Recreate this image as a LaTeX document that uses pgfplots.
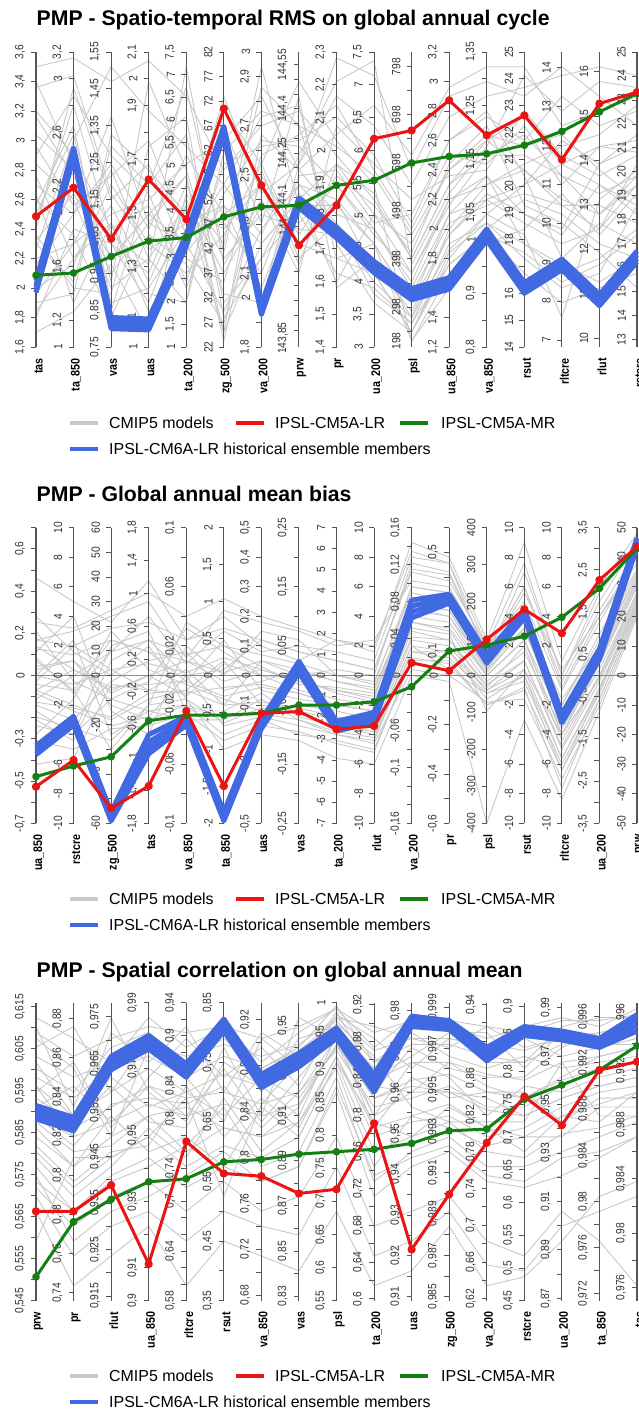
\documentclass[border=0pt]{standalone}
\usepackage{fontspec}
\setmainfont{Liberation Sans}
\newfontfamily\narrowfont[FakeStretch=0.86]{Liberation Sans}
\usepackage{pgfplots}
\pgfplotsset{compat=1.18}
\usepackage{pgfplotstable}

\definecolor{cgray}{RGB}{200,200,200}
\definecolor{axcol}{RGB}{85,85,85}
\definecolor{cred}{RGB}{235,20,20}
\definecolor{cgreen}{RGB}{20,128,20}
\definecolor{cblue}{RGB}{65,105,225}

\pgfkeys{/pgf/number format/.cd, fixed, precision=3, use comma, assume math mode=true, 1000 sep={}}

% idx, min, max, marks, labels, name
\newcommand\vax[6]{%
  \draw[axcol, line width=1.1bp] (axis cs:#1,0) -- (axis cs:#1,1);
  \foreach \t in {#4} {\pgfmathsetmacro\p{(\t-(#2))/((#3)-(#2))}\draw[axcol, line width=0.9bp] (axis cs:#1,\p) -- ++(-5bp,0bp);}
  \foreach \t in {#5} {\pgfmathsetmacro\p{(\t-(#2))/((#3)-(#2))}\node[rotate=90, anchor=south, inner sep=0pt, text=black!80, font=\narrowfont\fontsize{12}{12}\selectfont] at ([xshift=-11bp]axis cs:#1,\p) {\pgfmathprintnumber{\t}};}
  \node[rotate=90, anchor=east, inner sep=0pt, font=\narrowfont\bfseries\fontsize{12.5}{13}\selectfont] at ([xshift=2.5bp,yshift=-11bp]axis cs:#1,0) {#6};
}
\newcommand\blab[3]{\node[rotate=90, anchor=south, inner sep=0pt, text=black!80, font=\narrowfont\fontsize{12}{12}\selectfont] at ([xshift=-11bp]axis cs:#1,#2) {#3};}

\newcommand\leg[2]{%
  \draw[cgray, line width=4bp] (70bp,-#1bp) -- (98bp,-#1bp);
  \node[anchor=west, inner sep=0pt, font=\fontsize{16}{16}\selectfont] at (109bp,-#1bp) {CMIP5 models};
  \draw[cred, line width=4bp] (236bp,-#1bp) -- (264bp,-#1bp);
  \node[anchor=west, inner sep=0pt, font=\fontsize{16}{16}\selectfont] at (275bp,-#1bp) {IPSL-CM5A-LR};
  \draw[cgreen, line width=4bp] (400bp,-#1bp) -- (428bp,-#1bp);
  \node[anchor=west, inner sep=0pt, font=\fontsize{16}{16}\selectfont] at (441bp,-#1bp) {IPSL-CM5A-MR};
  \draw[cblue, line width=4bp] (70bp,-#2bp) -- (98bp,-#2bp);
  \node[anchor=west, inner sep=0pt, font=\fontsize{16}{16}\selectfont] at (109bp,-#2bp) {IPSL-CM6A-LR historical ensemble members};
}

% ---------------- Panel 1: RMS (normalised position on each axis)
\pgfplotstableread{
x r g b1 b2 b3 b4
0 0.443 0.243 0.225 0.210 0.200 0.185
1 0.540 0.251 0.675 0.665 0.655 0.640
2 0.367 0.307 0.100 0.088 0.075 0.062
3 0.568 0.359 0.095 0.082 0.070 0.058
4 0.433 0.371 0.380 0.368 0.355 0.342
5 0.808 0.441 0.748 0.738 0.728 0.715
6 0.548 0.475 0.145 0.133 0.122 0.110
7 0.345 0.480 0.505 0.495 0.485 0.472
8 0.480 0.548 0.405 0.395 0.382 0.370
9 0.706 0.565 0.290 0.278 0.265 0.252
10 0.734 0.624 0.198 0.186 0.174 0.160
11 0.836 0.646 0.235 0.222 0.210 0.196
12 0.718 0.655 0.400 0.388 0.376 0.362
13 0.785 0.684 0.218 0.206 0.195 0.182
14 0.635 0.731 0.298 0.286 0.274 0.262
15 0.825 0.797 0.178 0.166 0.154 0.140
16 0.864 0.859 0.325 0.313 0.300 0.288
}\mainA
\pgfplotstableread{
x m1 m2 m3 m4 m5 m6 m7 m8 m9 m10 m11 m12 m13 m14 m15 m16 m17 m18 m19 m20 m21 m22 m23 m24 m25 m26 m27 m28 m29 m30
0 .95 .72 .55 .40 .30 .62 .20 .10 .48 .35 .80 .25 .15 .58 .42 .68 .05 .33 .50 .88 .12 .65 .38 .78 .28 .45 .18 .90 .52 .36
1 .98 .60 .45 .88 .35 .50 .28 .40 .75 .22 .65 .55 .18 .30 .82 .48 .12 .70 .38 .92 .30 .85 .20 .58 .45 .72 .35 .62 .15 .52
2 .90 .30 .62 .50 .45 .20 .55 .35 .15 .68 .40 .25 .72 .42 .38 .58 .28 .95 .10 .52 .48 .65 .18 .35 .78 .22 .60 .12 .42 .30
3 .97 .45 .40 .62 .50 .30 .35 .25 .20 .55 .48 .42 .60 .18 .28 .70 .05 .80 .38 .33 .22 .52 .68 .15 .42 .90 .30 .55 .12 .45
4 .85 .35 .65 .30 .62 .48 .25 .55 .40 .72 .20 .58 .45 .15 .95 .38 .52 .68 .28 .42 .50 .22 .78 .48 .35 .60 .15 .88 .32 .58
5 .60 .12 .45 .22 .70 .05 .38 .30 .85 .15 .52 .02 .42 .66 .28 .75 .35 .55 .08 .48 .25 .62 .10 .40 .55 .18 .80 .32 .48 .05
6 .75 .40 .55 .65 .85 .35 .62 .45 .52 .30 .70 .60 .25 .80 .50 .42 .95 .38 .58 .20 .48 .68 .30 .55 .78 .15 .62 .88 .35 .72
7 .80 .55 .35 .72 .60 .50 .90 .40 .62 .45 .68 .30 .58 .75 .25 .85 .48 .65 .38 .52 .42 .70 .55 .28 .82 .62 .35 .75 .50 .60
8 .65 .50 .30 .82 .45 .62 .70 .38 .98 .25 .55 .42 .60 .35 .75 .20 .48 .90 .58 .40 .55 .78 .42 .62 .30 .85 .50 .68 .22 .72
9 .50 .35 .25 .60 .40 .45 .55 .30 .92 .20 .38 .28 .42 .15 .62 .30 .35 .97 .48 .22 .40 .65 .18 .52 .35 .75 .25 .58 .45 .82
10 .30 .15 .05 .40 .22 .35 .02 .10 .60 .08 .25 .12 .45 .05 .50 .18 .02 .28 .32 .10 .20 .42 .08 .30 .15 .55 .05 .38 .25 .65
11 .55 .45 .30 .65 .50 .60 .25 .40 .85 .35 .48 .38 .70 .28 .58 .42 .20 .52 .62 .33 .45 .70 .28 .55 .38 .78 .32 .60 .50 .88
12 .70 .50 .45 .62 .58 .72 .40 .55 .90 .42 .65 .52 .80 .38 .60 .48 .35 .68 .75 .45 .58 .78 .38 .65 .50 .85 .42 .70 .55 .95
13 .60 .42 .55 .75 .35 .68 .50 .62 .85 .30 .72 .45 .58 .25 .80 .52 .40 .92 .48 .38 .45 .70 .32 .65 .55 .88 .35 .78 .60 .95
14 .50 .35 .62 .55 .25 .72 .45 .68 .95 .20 .58 .40 .30 .15 .65 .48 .52 .80 .42 .10 .38 .85 .22 .58 .70 .92 .28 .62 .48 .75
15 .45 .40 .55 .68 .30 .60 .35 .72 .85 .25 .52 .62 .42 .20 .58 .48 .38 .90 .32 .50 .55 .75 .28 .45 .62 .95 .22 .68 .40 .80
16 .55 .62 .45 .70 .40 .50 .30 .82 .75 .48 .58 .68 .35 .25 .65 .42 .52 .88 .20 .60 .48 .80 .38 .58 .72 .92 .30 .66 .55 .85
}\grayA

% ---------------- Panel 2: bias
\pgfplotstableread{
x r g b1 b2 b3 b4
0 0.124 0.158 0.262 0.252 0.242 0.232
1 0.214 0.194 0.362 0.352 0.342 0.332
2 0.051 0.225 0.038 0.028 0.018 0.008
3 0.126 0.347 0.300 0.275 0.255 0.235
4 0.380 0.366 0.362 0.352 0.342 0.332
5 0.126 0.366 0.038 0.028 0.018 0.008
6 0.372 0.372 0.350 0.340 0.330 0.320
7 0.378 0.400 0.548 0.535 0.522 0.510
8 0.318 0.400 0.345 0.335 0.322 0.312
9 0.329 0.411 0.375 0.364 0.352 0.342
10 0.543 0.462 0.755 0.735 0.715 0.695
11 0.516 0.583 0.775 0.765 0.755 0.745
12 0.622 0.603 0.572 0.562 0.552 0.542
13 0.724 0.633 0.725 0.715 0.705 0.695
14 0.643 0.697 0.370 0.360 0.350 0.340
15 0.823 0.795 0.590 0.578 0.566 0.554
16 0.936 0.930 0.965 0.955 0.945 0.935
}\mainB
\pgfplotstableread{
x m1 m2 m3 m4 m5 m6 m7 m8 m9 m10 m11 m12 m13 m14 m15 m16 m17 m18 m19 m20 m21 m22 m23 m24 m25 m26 m27 m28 m29 m30
0 .83 .60 .55 .48 .45 .40 .52 .35 .65 .50 .42 .30 .58 .70 .47 .38 .20 .62 .44 .53 .50 .36 .62 .45 .28 .56 .41 .68 .33 .59
1 .75 .52 .45 .60 .40 .35 .55 .28 .48 .62 .50 .42 .70 .58 .45 .30 .22 .65 .38 .55 .47 .32 .60 .52 .25 .44 .39 .66 .30 .57
2 .68 .45 .62 .52 .35 .48 .40 .55 .42 .30 .58 .65 .38 .50 .25 .60 .47 .70 .33 .44 .52 .28 .66 .46 .32 .58 .36 .72 .42 .62
3 .82 .50 .58 .45 .42 .55 .35 .62 .48 .38 .70 .52 .30 .60 .40 .65 .45 .75 .36 .50 .54 .40 .68 .47 .33 .62 .44 .78 .38 .58
4 .62 .55 .48 .52 .45 .58 .40 .50 .66 .35 .54 .47 .60 .42 .68 .38 .44 .56 .50 .43 .51 .42 .62 .48 .37 .57 .45 .70 .40 .55
5 .70 .48 .62 .40 .55 .45 .30 .52 .58 .35 .65 .42 .50 .25 .60 .38 .46 .72 .33 .54 .56 .34 .66 .43 .28 .60 .40 .76 .36 .51
6 .60 .52 .45 .55 .40 .48 .35 .62 .50 .42 .58 .38 .65 .30 .53 .44 .47 .68 .36 .50 .52 .39 .62 .46 .33 .57 .41 .70 .37 .55
7 .55 .48 .42 .50 .38 .52 .30 .58 .45 .35 .60 .40 .62 .28 .47 .36 .44 .65 .33 .49 .48 .37 .58 .44 .31 .54 .39 .66 .35 .52
8 .62 .45 .40 .52 .35 .48 .28 .55 .42 .30 .58 .38 .50 .22 .46 .33 .40 .60 .30 .44 .45 .33 .55 .40 .27 .50 .36 .62 .31 .48
9 .58 .42 .38 .50 .32 .45 .25 .52 .40 .28 .55 .35 .48 .20 .44 .30 .38 .62 .27 .41 .43 .31 .52 .38 .24 .47 .34 .60 .29 .46
10 .95 .80 .72 .88 .62 .75 .55 .85 .68 .58 .90 .65 .78 .50 .70 .60 .66 .82 .52 .73 .76 .60 .86 .68 .56 .80 .63 .92 .58 .74
11 .90 .78 .70 .85 .60 .72 .55 .82 .65 .58 .88 .62 .75 .48 .68 .52 .64 .80 .50 .70 .74 .58 .84 .66 .54 .78 .62 .88 .56 .72
12 .62 .55 .50 .58 .45 .52 .40 .60 .48 .42 .56 .46 .54 .00 .50 .44 .38 .57 .41 .53 .52 .45 .58 .50 .40 .54 .47 .60 .44 .51
13 .95 .70 .62 .80 .55 .65 .45 .75 .58 .50 .85 .60 .68 .35 .62 .48 .52 .78 .42 .66 .70 .52 .80 .62 .46 .72 .55 .88 .50 .66
14 .55 .40 .30 .48 .25 .38 .18 .45 .32 .22 .50 .28 .42 .08 .35 .20 .30 .52 .15 .36 .38 .22 .46 .30 .12 .40 .26 .50 .18 .34
15 .80 .62 .55 .72 .48 .58 .42 .68 .52 .45 .75 .50 .60 .38 .56 .44 .49 .70 .40 .57 .60 .46 .70 .54 .42 .64 .50 .78 .45 .58
16 .98 .85 .80 .92 .75 .82 .72 .90 .78 .74 .95 .77 .84 .70 .80 .73 .76 .88 .71 .81 .83 .74 .90 .80 .72 .86 .78 .94 .75 .82
}\grayB

% ---------------- Panel 3: correlation
\pgfplotstableread{
x r g b1 b2 b3 b4
0 0.300 0.080 0.655 0.640 0.625 0.610
1 0.300 0.265 0.615 0.600 0.585 0.570
2 0.388 0.340 0.820 0.805 0.790 0.775
3 0.123 0.399 0.890 0.875 0.860 0.845
4 0.534 0.409 0.795 0.780 0.765 0.750
5 0.427 0.466 0.945 0.932 0.920 0.905
6 0.418 0.474 0.760 0.745 0.730 0.715
7 0.360 0.492 0.830 0.815 0.800 0.785
8 0.374 0.500 0.915 0.905 0.893 0.880
9 0.595 0.508 0.760 0.740 0.720 0.700
10 0.172 0.528 0.955 0.945 0.932 0.920
11 0.357 0.570 0.940 0.930 0.920 0.910
12 0.530 0.576 0.850 0.835 0.820 0.805
13 0.685 0.676 0.920 0.910 0.900 0.890
14 0.589 0.724 0.905 0.895 0.885 0.875
15 0.774 0.774 0.880 0.870 0.860 0.850
16 0.802 0.855 0.960 0.945 0.925 0.905
}\mainC
\pgfplotstableread{
x m1 m2 m3 m4 m5 m6 m7 m8 m9 m10 m11 m12 m13 m14 m15 m16 m17 m18 m19 m20 m21 m22 m23 m24 m25 m26 m27 m28 m29 m30
0 .95 .80 .65 .55 .72 .48 .85 .60 .38 .70 .92 .52 .45 .78 .30 .62 .88 .42 .68 .20 .75 .58 .90 .35 .66 .82 .50 .72 .40 .62
1 .88 .62 .72 .45 .55 .35 .92 .50 .25 .80 .65 .40 .30 .70 .05 .52 .78 .20 .60 .48 .68 .45 .82 .15 .58 .75 .38 .62 .30 .55
2 .80 .75 .60 .62 .90 .45 .70 .52 .35 .58 .95 .50 .40 .85 .15 .66 .55 .30 .72 .48 .78 .55 .88 .25 .65 .80 .48 .70 .42 .60
3 .95 .65 .72 .50 .80 .58 .88 .62 .40 .75 .70 .52 .45 .90 .25 .68 .85 .35 .60 .55 .82 .62 .92 .30 .72 .86 .55 .78 .48 .66
4 .85 .70 .62 .55 .92 .48 .78 .65 .30 .88 .60 .72 .52 .80 .05 .66 .75 .42 .58 .68 .75 .50 .90 .20 .68 .82 .45 .70 .38 .62
5 .92 .62 .78 .45 .70 .68 .95 .58 .40 .75 .85 .55 .65 .88 .20 .72 .60 .50 .80 .35 .82 .58 .92 .30 .70 .86 .52 .76 .45 .66
6 .80 .75 .60 .65 .90 .50 .70 .55 .30 .85 .62 .68 .45 .78 .15 .58 .88 .40 .72 .66 .78 .55 .88 .25 .66 .82 .48 .72 .40 .62
7 .90 .68 .75 .55 .82 .60 .88 .65 .35 .72 .95 .58 .50 .85 .10 .70 .78 .45 .62 .80 .84 .60 .92 .22 .70 .86 .55 .78 .45 .66
8 .98 .85 .90 .80 .95 .78 .92 .86 .55 .96 .88 .82 .75 .99 .30 .84 .97 .70 .89 .93 .94 .82 .98 .45 .88 .95 .80 .90 .72 .86
9 .85 .72 .62 .60 .92 .45 .78 .68 .25 .88 .70 .55 .40 .80 .05 .65 .75 .35 .58 .82 .80 .58 .90 .15 .68 .84 .50 .74 .42 .62
10 .95 .70 .80 .55 .88 .62 .92 .72 .30 .78 .85 .60 .50 .90 .10 .68 .82 .45 .75 .65 .86 .62 .94 .20 .74 .88 .55 .80 .48 .70
11 .92 .80 .75 .65 .85 .58 .95 .70 .35 .88 .78 .62 .55 .82 .25 .72 .90 .50 .68 .60 .86 .66 .94 .30 .76 .88 .60 .80 .52 .70
12 .88 .72 .62 .58 .92 .52 .80 .68 .20 .85 .75 .55 .45 .78 .05 .65 .90 .40 .70 .60 .82 .58 .92 .12 .70 .86 .50 .76 .42 .64
13 .92 .68 .72 .50 .85 .55 .80 .62 .15 .88 .75 .58 .45 .82 .08 .65 .78 .38 .70 .60 .80 .55 .90 .10 .68 .84 .48 .74 .40 .62
14 .95 .75 .70 .62 .88 .55 .92 .68 .30 .82 .85 .65 .50 .78 .20 .72 .90 .42 .60 .80 .86 .62 .94 .25 .74 .88 .56 .80 .48 .68
15 .92 .82 .75 .60 .88 .65 .95 .72 .20 .85 .90 .70 .55 .80 .35 .78 .86 .48 .68 .62 .88 .66 .94 .30 .78 .90 .58 .82 .50 .72
16 .98 .85 .78 .70 .90 .65 .95 .75 .05 .88 .92 .72 .60 .82 .40 .80 .86 .55 .68 .62 .90 .70 .96 .35 .80 .92 .62 .85 .55 .75
}\grayC

\pgfplotsset{
  pcp/.style={anchor=south west, width=601bp, scale only axis, xmin=0, xmax=16, ymin=0, ymax=1, hide axis, clip=false},
  gl/.style={cgray, line width=0.9bp, forget plot},
  bl/.style={cblue, line width=5bp, line join=round, forget plot},
  gr/.style={cgreen, line width=3bp, line join=round, mark=*, mark size=2.3bp, forget plot},
  rd/.style={cred, line width=3bp, line join=round, mark=*, mark size=2.6bp, forget plot},
}

\begin{document}
\begin{tikzpicture}
\useasboundingbox (0bp,0bp) rectangle (639bp,-1411bp);

% ===================== Panel 1
\node[anchor=base west, inner sep=0pt, font=\bfseries\fontsize{21.3}{22}\selectfont] at (36.5bp,-25bp) {PMP - Spatio-temporal RMS on global annual cycle};
\begin{axis}[pcp, at={(36bp,-347bp)}, height=295bp]
\pgfplotsinvokeforeach{1,...,30}{\addplot[gl] table[x=x,y=m#1]{\grayA};}
\pgfplotsextra{
\vax{0}{1.6}{3.6}{1.6,1.8,2,2.2,2.4,2.6,2.8,3,3.2,3.4,3.6}{1.6,1.8,2,2.2,2.4,2.6,2.8,3,3.2,3.4,3.6}{tas}
\vax{1}{1}{3.2}{1,1.2,1.4,1.6,1.8,2,2.2,2.4,2.6,2.8,3,3.2}{1,1.2,1.6,2,2.2,2.6,3,3.2}{ta\_850}
\vax{2}{0.75}{1.55}{0.75,0.85,0.95,1.05,1.15,1.25,1.35,1.45,1.55}{0.75,0.85,0.95,1.05,1.15,1.25,1.35,1.45,1.55}{vas}
\vax{3}{1}{2.1}{1,1.1,1.2,1.3,1.4,1.5,1.6,1.7,1.8,1.9,2,2.1}{1,1.1,1.3,1.5,1.7,1.9,2,2.1}{uas}
\vax{4}{1}{7.5}{1,1.5,2,2.5,3,3.5,4,4.5,5,5.5,6,6.5,7,7.5}{1,1.5,2,2.5,3,3.5,4,4.5,5,5.5,6,6.5,7,7.5}{ta\_200}
\vax{5}{22}{82}{22,27,32,37,42,47,52,57,62,67,72,77,82}{22,27,32,37,42,47,52,57,62,67,72,77,82}{zg\_500}
\vax{6}{1.8}{3}{1.8,1.9,2,2.1,2.2,2.3,2.4,2.5,2.6,2.7,2.8,2.9,3}{1.8,2,2.1,2.3,2.5,2.7,2.9,3}{va\_200}
\vax{7}{143.593}{144.593}{143.65,143.7,143.75,143.8,143.85,143.9,143.95,144,144.05,144.1,144.15,144.2,144.25,144.3,144.35,144.4,144.45,144.5,144.55}{144,144.1,144.25,144.4,144.55}{prw}
\blab{7}{0.03}{143,85}
\vax{8}{1.4}{2.3}{1.4,1.5,1.6,1.7,1.8,1.9,2,2.1,2.2,2.3}{1.4,1.5,1.6,1.7,1.8,1.9,2,2.1,2.2,2.3}{pr}
\vax{9}{3}{7.5}{3,3.5,4,4.5,5,5.5,6,6.5,7,7.5}{3,3.5,4,4.5,5,5.5,6,6.5,7,7.5}{ua\_200}
\vax{10}{215}{828}{248,298,348,398,448,498,548,598,648,698,748,798}{298,398,498,598,698,798}{psl}
\blab{10}{0.02}{198}
\vax{11}{1.2}{3.2}{1.2,1.4,1.6,1.8,2,2.2,2.4,2.6,2.8,3,3.2}{1.2,1.4,1.6,1.8,2,2.2,2.4,2.6,2.8,3,3.2}{ua\_850}
\vax{12}{0.8}{1.35}{0.8,0.85,0.9,0.95,1,1.05,1.1,1.15,1.2,1.25,1.3,1.35}{0.8,0.9,1,1.05,1.15,1.25,1.35}{va\_850}
\vax{13}{14}{25}{14,15,16,17,18,19,20,21,22,23,24,25}{14,15,16,17,18,19,20,21,22,23,24,25}{rsut}
\vax{14}{6.82}{14.4}{7,8,9,10,11,12,13,14}{7,8,9,10,11,12,13,14}{rltcre}
\vax{15}{9.8}{16.44}{10,11,12,13,14,15,16}{10,11,12,13,14,15,16}{rlut}
\vax{16}{12.7}{25}{13,14,15,16,17,18,19,20,21,22,23,24,25}{13,14,15,16,17,18,19,20,21,22,23,24,25}{rstcre}
}
\pgfplotsinvokeforeach{1,...,4}{\addplot[bl] table[x=x,y=b#1]{\mainA};}
\addplot[gr] table[x=x,y=g]{\mainA};
\addplot[rd] table[x=x,y=r]{\mainA};
\end{axis}
\leg{423}{449}

% ===================== Panel 2
\node[anchor=base west, inner sep=0pt, font=\bfseries\fontsize{21.3}{22}\selectfont] at (36.5bp,-501bp) {PMP - Global annual mean bias};
\begin{axis}[pcp, at={(36bp,-823.3bp)}, height=295.6bp]
\pgfplotsinvokeforeach{1,...,30}{\addplot[gl] table[x=x,y=m#1]{\grayB};}
\draw[black!45, line width=1bp] (axis cs:0,0.5) -- (axis cs:16.1,0.5);
\pgfplotsextra{
\vax{0}{-0.7}{0.7}{-0.7,-0.6,-0.5,-0.4,-0.3,-0.2,-0.1,0,0.1,0.2,0.3,0.4,0.5,0.6,0.7}{-0.7,-0.5,-0.3,0,0.2,0.4,0.6}{ua\_850}
\vax{1}{-10}{10}{-10,-8,-6,-4,-2,0,2,4,6,8,10}{-10,-8,-6,-4,-2,0,2,4,6,8,10}{rstcre}
\vax{2}{-60}{60}{-60,-50,-40,-30,-20,-10,0,10,20,30,40,50,60}{-60,-40,-20,0,10,20,30,40,50,60}{zg\_500}
\vax{3}{-1.8}{1.8}{-1.8,-1.4,-1,-0.6,-0.2,0.2,0.6,1,1.4,1.8}{-1.8,-1.4,-1,-0.6,-0.2,0.2,0.6,1,1.4,1.8}{tas}
\vax{4}{-0.1}{0.1}{-0.1,-0.08,-0.06,-0.04,-0.02,0,0.02,0.04,0.06,0.08,0.1}{-0.1,-0.06,-0.02,0,0.02,0.06,0.1}{va\_850}
\vax{5}{-2}{2}{-2,-1.5,-1,-0.5,0,0.5,1,1.5,2}{-2,-1.5,-1,-0.5,0,0.5,1,1.5,2}{ta\_850}
\vax{6}{-0.5}{0.5}{-0.5,-0.4,-0.3,-0.2,-0.1,0,0.1,0.2,0.3,0.4,0.5}{-0.5,-0.3,-0.1,0,0.1,0.2,0.3,0.4,0.5}{uas}
\vax{7}{-0.25}{0.25}{-0.25,-0.2,-0.15,-0.1,-0.05,0,0.05,0.1,0.15,0.2,0.25}{-0.25,-0.15,-0.05,0,0.05,0.15,0.25}{vas}
\vax{8}{-7}{7}{-7,-6,-5,-4,-3,-2,-1,0,1,2,3,4,5,6,7}{-7,-6,-5,-4,-3,-2,-1,0,1,2,3,4,5,6,7}{ta\_200}
\vax{9}{-10}{10}{-10,-8,-6,-4,-2,0,2,4,6,8,10}{-10,-8,-6,-4,-2,0,2,4,6,8,10}{rlut}
\vax{10}{-0.16}{0.16}{-0.16,-0.14,-0.12,-0.1,-0.08,-0.06,-0.04,-0.02,0,0.02,0.04,0.06,0.08,0.1,0.12,0.14,0.16}{-0.16,-0.1,-0.06,0,0.04,0.08,0.12,0.16}{va\_200}
\vax{11}{-0.6}{0.6}{-0.6,-0.5,-0.4,-0.3,-0.2,-0.1,0,0.1,0.2,0.3,0.4,0.5,0.6}{-0.6,-0.4,-0.2,0,0.1,0.3,0.5}{pr}
\vax{12}{-400}{400}{-400,-300,-200,-100,0,100,200,300,400}{-400,-300,-200,-100,0,100,200,300,400}{psl}
\vax{13}{-10}{10}{-10,-8,-6,-4,-2,0,2,4,6,8,10}{-10,-8,-6,-4,-2,0,2,4,6,8,10}{rsut}
\vax{14}{-10}{10}{-10,-8,-6,-4,-2,0,2,4,6,8,10}{-10,-8,-6,-4,-2,0,2,4,6,8,10}{rltcre}
\vax{15}{-3.5}{3.5}{-3.5,-3,-2.5,-2,-1.5,-1,-0.5,0,0.5,1,1.5,2,2.5,3,3.5}{-3.5,-2.5,-1.5,-0.5,0.5,1.5,2.5,3.5}{ua\_200}
\vax{16}{-50}{50}{-50,-40,-30,-20,-10,0,10,20,30,40,50}{-50,-40,-30,-20,-10,0,10,20,30,40,50}{prw}
}
\pgfplotsinvokeforeach{1,...,4}{\addplot[bl] table[x=x,y=b#1]{\mainB};}
\addplot[gr] table[x=x,y=g]{\mainB};
\addplot[rd] table[x=x,y=r]{\mainB};
\end{axis}
\leg{899}{925}

% ===================== Panel 3
\node[anchor=base west, inner sep=0pt, font=\bfseries\fontsize{21.3}{22}\selectfont] at (36.5bp,-977bp) {PMP - Spatial correlation on global annual mean};
\begin{axis}[pcp, at={(36bp,-1300.7bp)}, height=298bp]
\pgfplotsinvokeforeach{1,...,30}{\addplot[gl] table[x=x,y=m#1]{\grayC};}
\pgfplotsextra{
\vax{0}{0.545}{0.616}{0.545,0.55,0.555,0.56,0.565,0.57,0.575,0.58,0.585,0.59,0.595,0.6,0.605,0.61,0.615}{0.545,0.555,0.565,0.575,0.585,0.595,0.605,0.615}{prw}
\vax{1}{0.736}{0.888}{0.74,0.76,0.78,0.8,0.82,0.84,0.86,0.88}{0.74,0.76,0.78,0.8,0.82,0.84,0.86,0.88}{pr}
\vax{2}{0.914}{0.978}{0.915,0.92,0.925,0.93,0.935,0.94,0.945,0.95,0.955,0.96,0.965,0.97,0.975}{0.915,0.925,0.935,0.945,0.955,0.965,0.975}{rlut}
\vax{3}{0.9}{0.99}{0.9,0.91,0.92,0.93,0.94,0.95,0.96,0.97,0.98,0.99}{0.9,0.91,0.93,0.95,0.97,0.99}{ua\_850}
\vax{4}{0.58}{0.94}{0.58,0.6,0.62,0.64,0.66,0.68,0.7,0.72,0.74,0.76,0.78,0.8,0.82,0.84,0.86,0.88,0.9,0.92,0.94}{0.58,0.64,0.7,0.74,0.8,0.84,0.9,0.94}{rltcre}
\vax{5}{0.35}{0.85}{0.35,0.4,0.45,0.5,0.55,0.6,0.65,0.7,0.75,0.8,0.85}{0.35,0.45,0.55,0.65,0.75,0.85}{rsut}
\vax{6}{0.675}{0.935}{0.68,0.7,0.72,0.74,0.76,0.78,0.8,0.82,0.84,0.86,0.88,0.9,0.92}{0.68,0.72,0.76,0.8,0.84,0.88,0.92}{va\_850}
\vax{7}{0.828}{0.96}{0.83,0.84,0.85,0.86,0.87,0.88,0.89,0.9,0.91,0.92,0.93,0.94,0.95}{0.83,0.85,0.87,0.89,0.91,0.93,0.95}{vas}
\vax{8}{0.55}{1}{0.55,0.6,0.65,0.7,0.75,0.8,0.85,0.9,0.95,1}{0.55,0.6,0.65,0.7,0.75,0.8,0.85,0.9,0.95,1}{psl}
\vax{9}{0.598}{0.922}{0.6,0.62,0.64,0.66,0.68,0.7,0.72,0.74,0.76,0.78,0.8,0.82,0.84,0.86,0.88,0.9,0.92}{0.6,0.64,0.68,0.72,0.76,0.8,0.84,0.88,0.92}{ta\_200}
\vax{10}{0.909}{0.982}{0.91,0.915,0.92,0.925,0.93,0.935,0.94,0.945,0.95,0.955,0.96,0.965,0.97,0.975,0.98}{0.91,0.92,0.93,0.94,0.95,0.96,0.97,0.98}{uas}
\vax{11}{0.9848}{0.9992}{0.985,0.986,0.987,0.988,0.989,0.99,0.991,0.992,0.993,0.994,0.995,0.996,0.997,0.998,0.999}{0.985,0.987,0.989,0.991,0.993,0.995,0.997,0.999}{zg\_500}
\vax{12}{0.618}{0.942}{0.62,0.64,0.66,0.68,0.7,0.72,0.74,0.76,0.78,0.8,0.82,0.84,0.86,0.88,0.9,0.92,0.94}{0.62,0.66,0.7,0.74,0.78,0.82,0.86,0.9,0.94}{va\_200}
\vax{13}{0.45}{0.905}{0.45,0.5,0.55,0.6,0.65,0.7,0.75,0.8,0.85,0.9}{0.45,0.5,0.55,0.6,0.65,0.7,0.75,0.8,0.85,0.9}{rstcre}
\vax{14}{0.869}{0.992}{0.87,0.88,0.89,0.9,0.91,0.92,0.93,0.94,0.95,0.96,0.97,0.98,0.99}{0.87,0.89,0.91,0.93,0.95,0.97,0.99}{ua\_200}
\vax{15}{0.9714}{0.9972}{0.972,0.974,0.976,0.978,0.98,0.982,0.984,0.986,0.988,0.99,0.992,0.994,0.996}{0.972,0.976,0.98,0.984,0.988,0.992,0.996}{ta\_850}
\vax{16}{0.975}{0.997}{0.976,0.978,0.98,0.982,0.984,0.986,0.988,0.99,0.992,0.994,0.996}{0.976,0.98,0.984,0.988,0.992,0.996}{tas}
}
\pgfplotsinvokeforeach{1,...,4}{\addplot[bl] table[x=x,y=b#1]{\mainC};}
\addplot[gr] table[x=x,y=g]{\mainC};
\addplot[rd] table[x=x,y=r]{\mainC};
\end{axis}
\leg{1376}{1402}
\end{tikzpicture}
\end{document}
